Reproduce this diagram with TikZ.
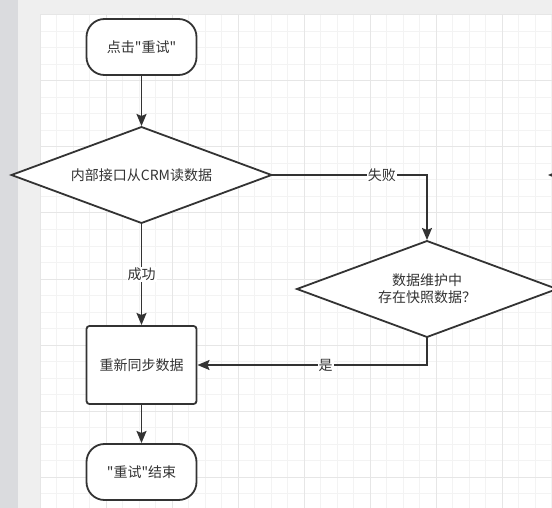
\documentclass[tikz,border=0pt]{standalone}
\usepackage{fontspec}
\newfontfamily\cjk{Noto Sans CJK SC}
\usetikzlibrary{positioning, shapes.geometric, arrows.meta}
\definecolor{ink}{HTML}{333333}
\definecolor{pagegray}{HTML}{EFEFEF}
\definecolor{sidegray}{HTML}{DADBDE}
\definecolor{gridminor}{HTML}{F3F3F3}
\definecolor{gridmajor}{HTML}{E6E6E6}

\begin{document}
\begin{tikzpicture}[
    x=1pt, y=-1pt,
    terminal/.style={rectangle, draw=ink, line width=1.8pt, rounded corners=18pt, fill=white, minimum width=110pt, minimum height=56pt, outer sep=0pt, align=center},
    box/.style={rectangle, draw=ink, line width=1.8pt, rounded corners=3pt, fill=white, minimum width=110pt, minimum height=78pt, outer sep=0pt, align=center},
    decision/.style={diamond, aspect=2.7, draw=ink, line width=1.8pt, fill=white, minimum width=260pt, minimum height=96pt, inner sep=0pt, outer sep=0pt, align=center},
    arrow/.style={-{Stealth[length=12pt, width=10pt, inset=2pt]}, draw=ink, line width=1.8pt, shorten >=1pt},
    lbl/.style={fill=white, inner sep=1pt},
    every node/.style={font=\cjk\fontsize{14}{17}\selectfont, text=ink}
]
    \useasboundingbox (0,0) rectangle (552,508);

    % page and grid
    \fill[pagegray] (0,0) rectangle (552,508);
    \fill[sidegray] (0,0) rectangle (18,508);
    \fill[white] (40,15) rectangle (552,508);
    \foreach \i in {0,...,31}
        \draw[gridminor, line width=1pt] ({40+16.5*\i},15) -- ({40+16.5*\i},508);
    \foreach \i in {0,...,29}
        \draw[gridminor, line width=1pt] (40,{15+16.5*\i}) -- (552,{15+16.5*\i});
    \foreach \i in {0,...,7} {
        \draw[gridmajor, line width=1pt] ({40+66*\i},15) -- ({40+66*\i},508);
        \draw[gridmajor, line width=1pt] (40,{15+66*\i}) -- (552,{15+66*\i});
    }

    \node[terminal] (start) at (141.5,47) {点击"重试"};
    \node[decision, below=52pt of start] (readcrm) {内部接口从CRM读数据};
    \node[box, below=103pt of readcrm] (resync) {重新同步数据};
    \node[terminal, below=40pt of resync] (finish) {"重试"结束};
    \node[decision] (snapshot) at (427,289) {数据维护中\\存在快照数据？};

    \draw[arrow] (start) -- (readcrm);
    \draw[arrow] (readcrm) -- node[lbl] {成功} (resync);
    \draw[arrow] (readcrm.east) -- node[lbl, pos=0.71] {失败} (readcrm.east -| snapshot.north) -- (snapshot.north);
    \draw[arrow] (snapshot.south) -- (snapshot.south |- resync.east) -- node[lbl, pos=0.44] {是} (resync.east);
    \draw[arrow] (resync) -- (finish);

    % connector coming in from outside the view
    \coordinate (offview) at (600,175);
    \coordinate (inview) at (547,175);
    \draw[arrow] (offview) -- (inview);
\end{tikzpicture}
\end{document}
